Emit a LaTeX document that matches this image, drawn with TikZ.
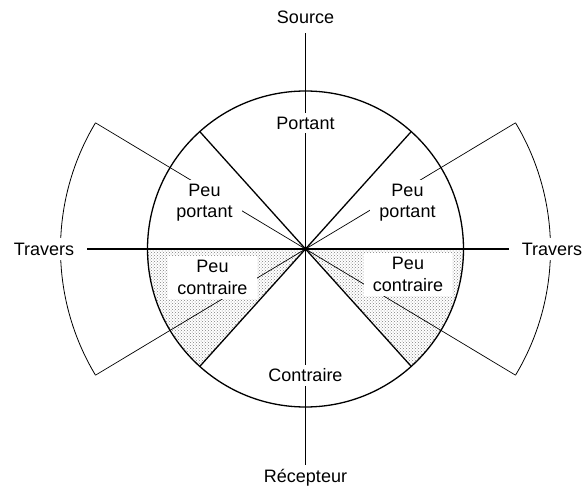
\documentclass[tikz,border=0pt]{standalone}
\usepackage{fontspec}
\setmainfont{Liberation Sans}
\usetikzlibrary{patterns}

\begin{document}
\begin{tikzpicture}[x=1pt, y=1pt,
  lab/.style={font=\fontsize{18}{21.6}\selectfont, inner sep=0pt},
  boite/.style={lab, fill=white, align=center, inner xsep=9pt, inner ysep=4pt},
  epais/.style={line width=1.3pt},
  fin/.style={line width=0.7pt},
  pointille/.style={pattern=crosshatch dots, pattern color=black!50}]
\useasboundingbox (0,0) rectangle (584,488);
\def\r{158}
\def\R{245}

\coordinate (O) at (305.5,239);
\foreach \a/\n in {48/ne,132/no,228/so,312/se}
  \coordinate (d\n) at ([shift={(\a:\r)}]O);
\foreach \a/\n in {31/ne,149/no,211/so,329/se}
  \coordinate (c\n) at ([shift={(\a:\R)}]O);

\fill [pointille] (O) -- ([shift={(180:\r)}]O) arc [start angle=180, end angle=228, radius=\r] -- cycle;
\fill [pointille] (O) -- (dse) arc [start angle=312, end angle=360, radius=\r] -- cycle;

\draw [fin] (cne) -- (O);
\draw [fin] (cno) -- (O);
\draw [fin] (cso) -- (O);
\draw [fin] (cse) -- (O);
\draw [line width=0.8pt] (cno) arc [start angle=149, end angle=211, radius=\R];
\draw [line width=0.8pt] (cse) arc [start angle=-31, end angle=31, radius=\R];

\node (source) [lab] at (305.5,470.5) {Source};
\node (recepteur) [lab, anchor=base] at (305.5,5.5) {Récepteur};
\node (traversG) [lab, fill=white, inner xsep=13pt, inner ysep=5pt] at (44,239) {Travers};
\node (traversD) [lab, fill=white, inner xsep=13pt, inner ysep=5pt] at (552,239) {Travers};

\draw [epais, shorten <=9pt, shorten >=4pt] (source) -- (recepteur);
\draw [epais] (traversG) -- (traversD);
\foreach \n in {ne,no,so,se}
  \draw [epais] (O) -- (d\n);
\draw [epais] (O) circle [radius=\r];

\node (portant) [boite, anchor=base] at (305.5,358.7) {Portant};
\node (contraire) [boite, anchor=base] at (305.5,106.3) {Contraire};
\node (peuportantG) [boite] at (204.5,285.5) {Peu\\portant};
\node (peuportantD) [boite] at (407.5,285.5) {Peu\\portant};
\node (peucontraireG) [boite] at (212.5,210.5) {Peu\\contraire};
\node (peucontraireD) [boite] at (408,213.5) {Peu\\contraire};
\end{tikzpicture}
\end{document}
